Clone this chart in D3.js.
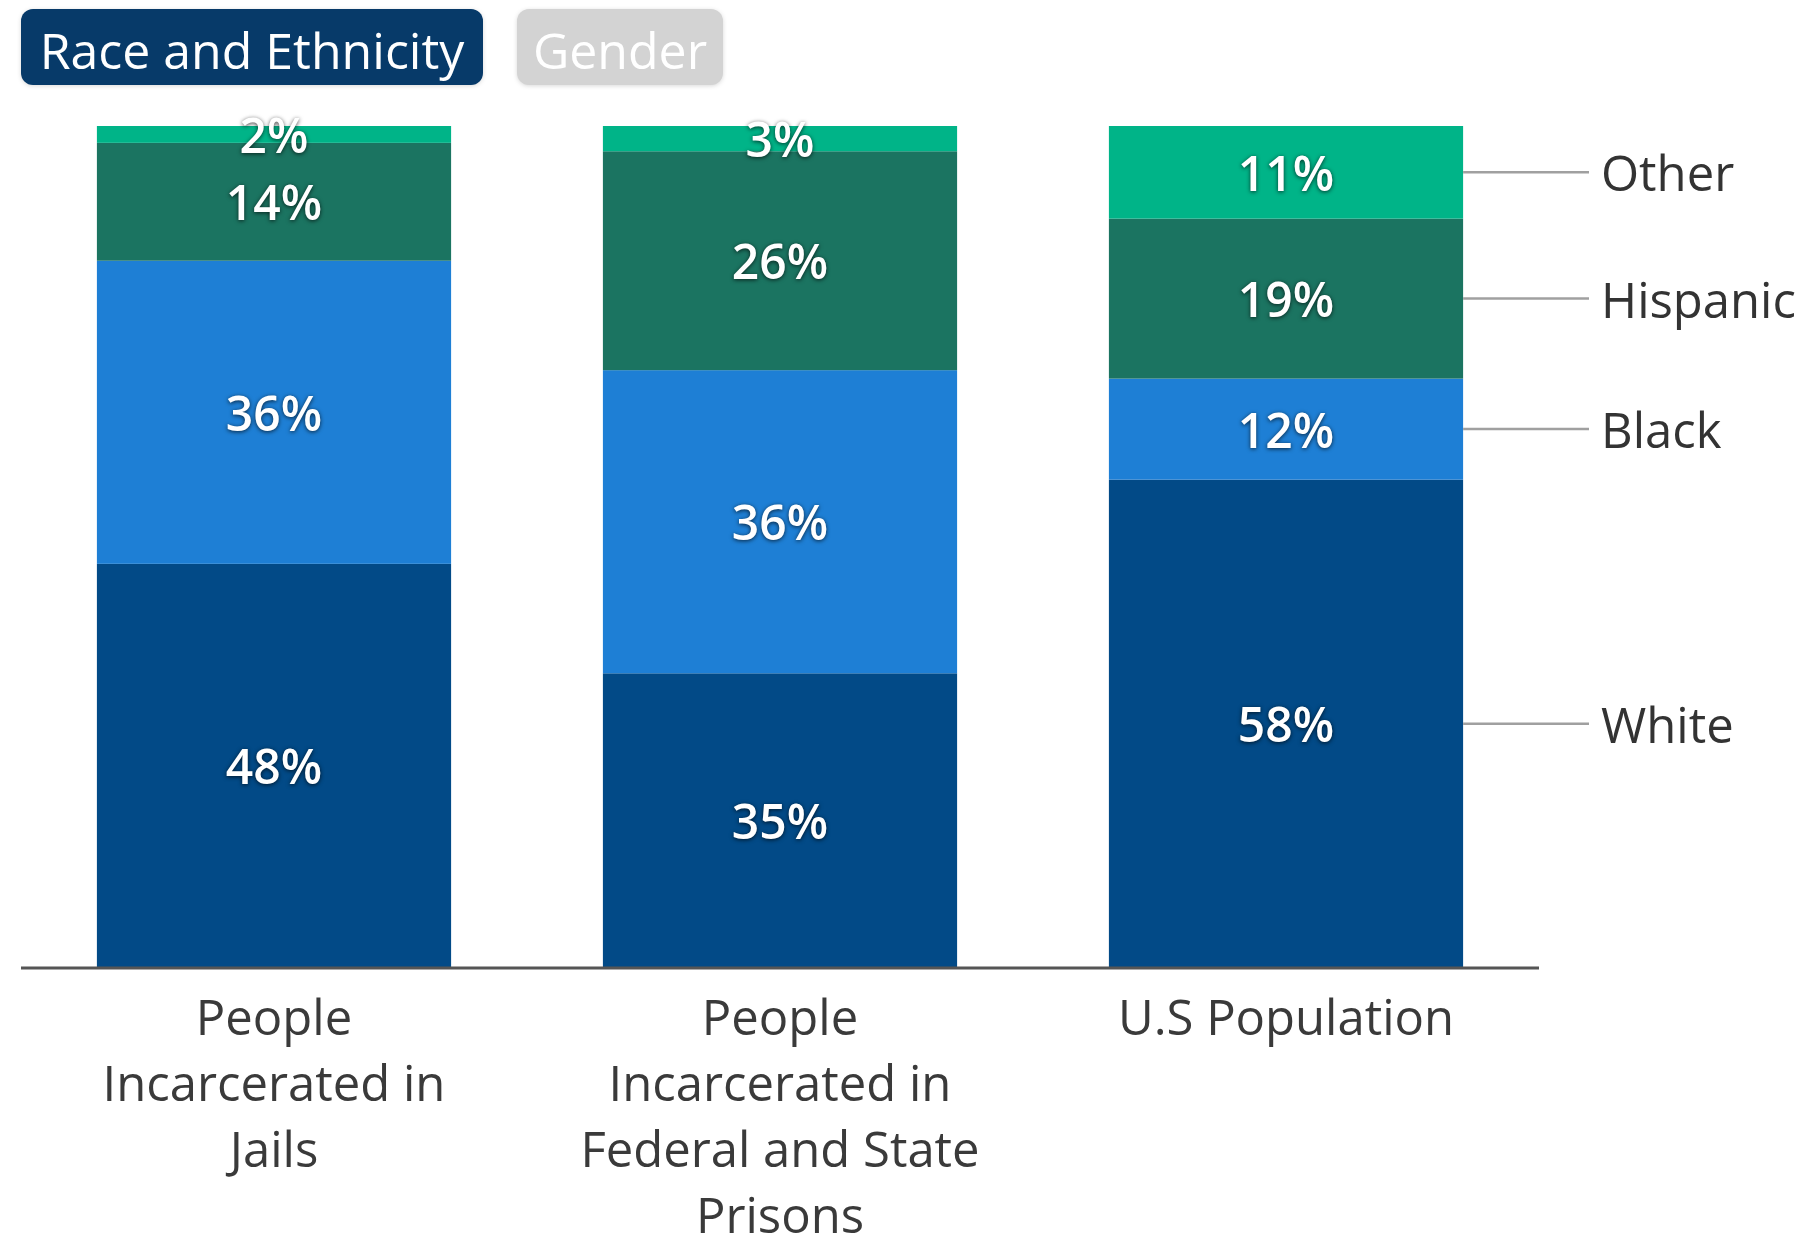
<!DOCTYPE html>
<html>
<head>
<meta charset="utf-8">
<script src="https://cdn.jsdelivr.net/npm/d3@7"></script>
<style>
  html, body { margin: 0; padding: 0; background: #fff; }
  svg { display: block; font-family: "Open Sans", "Noto Sans", sans-serif; }
  .val { fill: #fff; font-weight: 600; filter: drop-shadow(0 1px 2px rgba(0,0,0,0.7)); }
</style>
</head>
<body>
<svg id="chart" width="1806" height="1241"></svg>
<script>
// Share of each group by race and ethnicity (percent)
const categories = ["Jails", "Prisons", "US"];
const categoryLabels = [
  "People\nIncarcerated in\nJails",
  "People\nIncarcerated in\nFederal and State\nPrisons",
  "U.S Population"
];
const groups = ["White", "Black", "Hispanic", "Other"];
const white    = [48, 35, 58];
const black    = [36, 36, 12];
const hispanic = [14, 26, 19];
const other    = [2, 3, 11];
const toggles  = ["Race and Ethnicity", "Gender"];

const colors = {
  White: "#024a87",
  Black: "#1e7fd5",
  Hispanic: "#1b7461",
  Other: "#00b488"
};

const rows = categories.map((c, i) => ({
  category: c,
  White: white[i], Black: black[i], Hispanic: hispanic[i], Other: other[i]
}));

const svg = d3.select("#chart");

// Toggle buttons above the chart
const btnGeo = [
  { x: 21, w: 462, fill: "#073a69" },
  { x: 517, w: 206, fill: "#d3d3d3" }
];
const btn = svg.append("g").selectAll("g").data(toggles).join("g");
btn.append("rect")
  .attr("x", (d, i) => btnGeo[i].x).attr("y", 9)
  .attr("width", (d, i) => btnGeo[i].w).attr("height", 76)
  .attr("rx", 12).attr("fill", (d, i) => btnGeo[i].fill)
  .style("filter", "drop-shadow(0 1px 2px rgba(0,0,0,0.15))");
btn.append("text")
  .attr("x", (d, i) => btnGeo[i].x + btnGeo[i].w / 2).attr("y", 50)
  .attr("text-anchor", "middle").attr("dominant-baseline", "central")
  .attr("font-size", 50).attr("fill", "#fff")
  .text(d => d);

// Scales
const x = d3.scaleBand().domain(categories).range([21, 1539])
  .paddingInner(0.3).paddingOuter(0.15);
const y = d3.scaleLinear().domain([0, 100]).range([968, 126]);

const stacked = d3.stack().keys(groups)(rows);

const layer = svg.append("g").selectAll("g").data(stacked).join("g")
  .attr("fill", d => colors[d.key]);

layer.selectAll("rect").data(d => d).join("rect")
  .attr("x", d => x(d.data.category))
  .attr("width", x.bandwidth())
  .attr("y", d => y(d[1]))
  .attr("height", d => y(d[0]) - y(d[1]));

// Value labels centred in each segment
layer.selectAll("text").data(d => d).join("text")
  .attr("class", "val")
  .attr("x", d => x(d.data.category) + x.bandwidth() / 2)
  .attr("y", d => (y(d[0]) + y(d[1])) / 2)
  .attr("text-anchor", "middle").attr("dominant-baseline", "central")
  .attr("font-size", 48)
  .text(function(d) {
    const key = d3.select(this.parentNode).datum().key;
    return d.data[key] + "%";
  });

// Baseline axis with wrapped category labels
const axis = svg.append("g").attr("transform", "translate(0,968)")
  .call(d3.axisBottom(x).tickSize(0).tickPadding(0).tickFormat(""));
axis.select(".domain").attr("stroke", "#555").attr("stroke-width", 3)
  .attr("d", "M21,0H1539");

axis.selectAll(".tick text").remove();
axis.selectAll(".tick").each(function(d, i) {
  const lines = categoryLabels[i].split("\n");
  const t = d3.select(this).append("text")
    .attr("text-anchor", "middle").attr("fill", "#3a3a3a")
    .attr("font-size", 49).attr("font-family", "Open Sans, sans-serif");
  lines.forEach((ln, k) => {
    t.append("tspan").attr("x", 0).attr("y", 67 + k * 66).text(ln);
  });
});

// Legend: leader lines from the last bar's segments
const last = categories[categories.length - 1];
const legendData = stacked.map(s => {
  const seg = s.find(d => d.data.category === last);
  return { key: s.key, cy: (y(seg[0]) + y(seg[1])) / 2 };
});
const xr = x(last) + x.bandwidth();
const leg = svg.append("g").selectAll("g").data(legendData).join("g");
leg.append("line")
  .attr("x1", xr).attr("x2", 1589)
  .attr("y1", d => d.cy).attr("y2", d => d.cy)
  .attr("stroke", "#a0a0a0").attr("stroke-width", 2.5);
leg.append("text")
  .attr("x", 1601).attr("y", d => d.cy)
  .attr("dominant-baseline", "central")
  .attr("font-size", 49).attr("fill", "#333")
  .text(d => d.key);
</script>
</body>
</html>
